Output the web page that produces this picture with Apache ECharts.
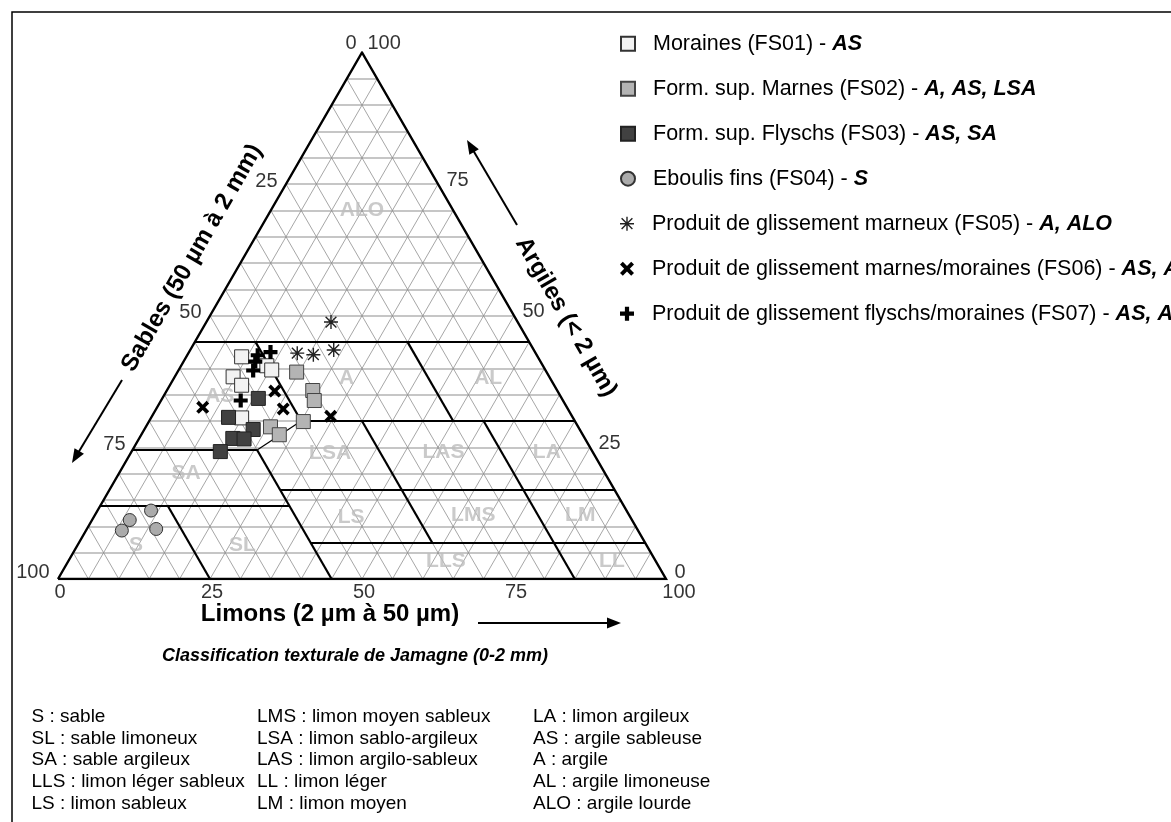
<!DOCTYPE html>
<html><head><meta charset="utf-8">
<script src="https://cdn.jsdelivr.net/npm/echarts@6.0.0/dist/echarts.min.js"></script>
<style>html,body{margin:0;padding:0;background:#fff}#c{width:1171px;height:822px}</style>
</head><body><div id="c"></div>
<script>
// ---------------- DATA ----------------
// ternary points given as [argile %, limon %]  (sable = 100 - argile - limon)
const seriesNames = ['Moraines (FS01)', 'Form. sup. Marnes (FS02)', 'Form. sup. Flyschs (FS03)', 'Eboulis fins (FS04)',
  'Produit de glissement marneux (FS05)', 'Produit de glissement marnes/moraines (FS06)', 'Produit de glissement flyschs/moraines (FS07)'];
const seriesClasses = ['AS', 'A, AS, LSA', 'AS, SA', 'S', 'A, ALO', 'AS, A', 'AS, A'];
const moraines   = [[42.2, 9.1], [40.5, 14.1], [39.7, 15.3], [38.4, 9.6], [36.8, 11.8], [30.6, 14.9]];
const marnes     = [[39.3, 19.6], [35.8, 24.0], [33.9, 25.2], [29.9, 25.4], [28.9, 20.5], [27.4, 22.7]];
const flyschs    = [[34.3, 15.8], [30.7, 12.7], [28.4, 17.9], [26.7, 15.4], [26.6, 17.3], [24.2, 14.6]];
const eboulis    = [[13.0, 8.8], [11.2, 6.2], [9.2, 5.9], [9.5, 11.4]];
const glissMarn  = [[48.8, 20.5], [42.9, 17.9], [42.6, 20.7], [43.5, 23.6]];
const glissMarMo = [[32.6, 7.5], [35.7, 17.8], [32.3, 20.9], [30.9, 29.4]];
const glissFlyMo = [[42.5, 11.6], [43.1, 13.4], [41.3, 11.8], [39.6, 12.3], [33.9, 13.1]];

// Jamagne class boundaries: segments between two [argile, limon] points
const zoneBounds = [
  [[45, 0], [45, 55]], [[45, 10], [30, 25]], [[45, 35], [30, 50]], [[30, 25], [30, 70]],
  [[24.5, 0], [24.5, 20.5]], [[24.5, 20.5], [0, 45]], [[17, 28], [17, 83]], [[6.8, 38.2], [6.8, 93.2]],
  [[14, 0], [14, 31]], [[14, 11], [0, 25]], [[30, 35], [6.8, 58.2]], [[30, 55], [0, 85]]
];
const zoneBoundsThin = [[[30, 25], [24.5, 20.5]]];
const zoneNames  = ['ALO', 'A', 'AL', 'AS', 'LSA', 'LAS', 'LA', 'SA', 'LS', 'LMS', 'LM', 'S', 'SL', 'LLS', 'LL'];
const zoneCenter = [[70, 15], [38.1, 28.4], [38.1, 51.7], [34.8, 9.2], [23.9, 32.8], [24, 51.4], [24, 68.4], [20.1, 11],
  [11.8, 42.3], [12.2, 62.2], [12.2, 79.8], [6.5, 9.6], [6.5, 27.1], [3.4, 62.1], [3.4, 89.4]];
const tickValues = [0, 25, 50, 75, 100];

const axisTitles = ['Sables (50 µm à 2 mm)', 'Argiles (< 2 µm)', 'Limons (2 µm à 50 µm)'];
const chartTitle = 'Classification texturale de Jamagne (0-2 mm)';
const glossary = [
  ['S : sable', 'SL : sable limoneux', 'SA : sable argileux', 'LLS : limon léger sableux', 'LS : limon sableux'],
  ['LMS : limon moyen sableux', 'LSA : limon sablo-argileux', 'LAS : limon argilo-sableux', 'LL : limon léger', 'LM : limon moyen'],
  ['LA : limon argileux', 'AS : argile sableuse', 'A : argile', 'AL : argile limoneuse', 'ALO : argile lourde']
];

// ---------------- HELPERS ----------------
const FONT = 'Liberation Sans, Arial, sans-serif';
const H = Math.sqrt(3) / 2;
function tern(c, s) { return [s + c / 2, c * H]; }
function seg(a, b) { return { coords: [tern(a[0], a[1]), tern(b[0], b[1])] }; }

const gridHoriz = [], gridDiag = [];
for (let k = 5; k < 100; k += 5) {
  gridHoriz.push(seg([k, 0], [k, 100 - k]));
  gridDiag.push(seg([0, k], [100 - k, k]));
  gridDiag.push(seg([0, 100 - k], [100 - k, 0]));
}

const PATH_STAR = 'path://M9,0H11V20H9Z M0,9H20V11H0Z M1.6,3L3,1.6L18.4,17L17,18.4Z M17,1.6L18.4,3L3,18.4L1.6,17Z';
const PATH_X = 'path://M0,4L4,0L10,6L16,0L20,4L14,10L20,16L16,20L10,14L4,20L0,16L6,10Z';
const PATH_PLUS = 'path://M7,0H13V7H20V13H13V20H7V13H0V7H7Z';

const pointSets = [moraines, marnes, flyschs, eboulis, glissMarn, glissMarMo, glissFlyMo];
const symbols = ['rect', 'rect', 'rect', 'circle', PATH_STAR, PATH_X, PATH_PLUS];
const sizes = [14, 14, 14, 13, 14, 13, 14];
const fills = ['#f2f2f2', '#b4b4b4', '#414141', '#ababab', '#222', '#000', '#000'];
const borders = ['#333', '#444', '#222', '#333', null, null, null];

const dataSeries = pointSets.map((pts, i) => ({
  type: 'scatter', name: seriesNames[i], z: 5 + i,
  data: pts.map(p => tern(p[0], p[1])),
  symbol: symbols[i], symbolSize: sizes[i],
  itemStyle: borders[i] ? { color: fills[i], borderColor: borders[i], borderWidth: 1, opacity: 1 } : { color: fills[i], opacity: 1 },
  emphasis: { disabled: true }, animation: false
}));

function labelSeries(points, texts, label) {
  return {
    type: 'scatter', silent: true, animation: false, z: 20,
    symbol: 'circle', symbolSize: 1, itemStyle: { color: 'rgba(0,0,0,0)' },
    data: points.map((p, i) => ({ value: tern(p[0], p[1]), name: String(texts[i]) })),
    label: Object.assign({ show: true, formatter: '{b}', color: '#000', fontSize: 20, fontFamily: FONT }, label)
  };
}

const leftTicks = tickValues.filter(v => v > 0 && v < 100);
const tickSeries = [
  labelSeries(leftTicks.map(v => [100 - v, 0]), leftTicks, { position: 'left', distance: 8, offset: [0, -3] }),
  labelSeries([[0, 0]], [100], { position: 'left', distance: 8, offset: [0, -7] }),
  labelSeries(leftTicks.map(v => [v, 100 - v]), leftTicks, { position: 'right', distance: 8, offset: [0, -4] }),
  labelSeries([[0, 100]], [0], { position: 'right', distance: 8, offset: [0, -7] }),
  labelSeries(tickValues.filter(v => v < 100).map(v => [0, v]), tickValues.filter(v => v < 100), { position: 'bottom', distance: 3, offset: [2, 0] }),
  labelSeries([[0, 100]], [100], { position: 'bottom', distance: 3, offset: [13, 0] }),
  labelSeries([[100, 0]], [0], { position: 'left', distance: 5, offset: [0, -9] }),
  labelSeries([[100, 0]], [100], { position: 'right', distance: 5, offset: [0, -9] })
];
const zoneLabelSeries = labelSeries(zoneCenter, zoneNames, { position: 'inside', fontSize: 21, fontWeight: 'bold', color: '#bdbdbd' });
zoneLabelSeries.z = 3;

function arrow(x1, y1, x2, y2) {
  const dx = x2 - x1, dy = y2 - y1, L = Math.hypot(dx, dy), ux = dx / L, uy = dy / L, px = -uy, py = ux, hl = 14, hw = 5.5;
  const bx = x2 - ux * hl, by = y2 - uy * hl;
  return [
    { type: 'line', shape: { x1: x1, y1: y1, x2: bx + ux * 2, y2: by + uy * 2 }, style: { stroke: '#000', lineWidth: 2 } },
    { type: 'polygon', shape: { points: [[x2, y2], [bx + px * hw, by + py * hw], [bx - px * hw, by - py * hw]] }, style: { fill: '#000' } }
  ];
}

const graphics = [
  { type: 'rect', shape: { x: 12, y: 12, width: 1400, height: 1000 }, style: { fill: 'none', stroke: '#000', lineWidth: 1.5 }, silent: true },
  { type: 'text', x: 192, y: 258, rotation: Math.PI / 3, style: { text: axisTitles[0], font: 'bold 24px ' + FONT, fill: '#000', align: 'center', verticalAlign: 'middle' } },
  { type: 'text', x: 566, y: 317, rotation: -Math.PI / 3, style: { text: axisTitles[1], font: 'bold 24px ' + FONT, fill: '#000', align: 'center', verticalAlign: 'middle' } },
  { type: 'text', x: 330, y: 614, style: { text: axisTitles[2], font: 'bold 24px ' + FONT, fill: '#000', align: 'center', verticalAlign: 'middle' } },
  { type: 'text', x: 355, y: 656, style: { text: chartTitle, font: 'italic bold 18px ' + FONT, fill: '#000', align: 'center', verticalAlign: 'middle' } }
].concat(arrow(122, 380, 72, 463), arrow(517, 225, 467, 140), arrow(478, 623, 621, 623));

const colX = [31.5, 257, 533];
glossary.forEach((col, ci) => col.forEach((t, ri) => {
  graphics.push({ type: 'text', x: colX[ci], y: 716.7 + 21.65 * ri, style: { text: t, font: '19px ' + FONT, fill: '#000', align: 'left', verticalAlign: 'middle' } });
}));

const legends = seriesNames.map((n, i) => ({
  data: [n], left: 620, top: 34.7 + 45 * i - 2, orient: 'vertical', padding: 0, itemGap: 0,
  itemWidth: 14, itemHeight: 14, selectedMode: false,
  formatter: name => '{n|' + name + ' - }{b|' + seriesClasses[i] + '}',
  textStyle: {
    rich: {
      n: { fontSize: 21.5, fontFamily: FONT, color: '#000', padding: [0, 0, 0, 13] },
      b: { fontSize: 21.5, fontFamily: FONT, color: '#000', fontWeight: 'bold', fontStyle: 'italic' }
    }
  }
}));

const chart = echarts.init(document.getElementById('c'), null, { renderer: 'canvas', width: 1171, height: 822 });
chart.setOption({
  backgroundColor: '#fff',
  animation: false,
  grid: { left: 58, top: 52.5, width: 608, height: 526.5 },
  xAxis: { type: 'value', min: 0, max: 100, show: false },
  yAxis: { type: 'value', min: 0, max: 100 * H, show: false },
  legend: legends,
  graphic: graphics,
  series: [
    { type: 'lines', coordinateSystem: 'cartesian2d', silent: true, z: 1, data: gridHoriz, lineStyle: { color: '#c6c6c6', width: 1.8, opacity: 1 }, animation: false },
    { type: 'lines', coordinateSystem: 'cartesian2d', silent: true, z: 1, data: gridDiag, lineStyle: { color: '#8f8f8f', width: 0.8, opacity: 1 }, animation: false },
    zoneLabelSeries,
    { type: 'lines', coordinateSystem: 'cartesian2d', silent: true, z: 4, data: zoneBounds.map(b => seg(b[0], b[1])), lineStyle: { color: '#000', width: 2.2, opacity: 1 }, animation: false },
    { type: 'lines', coordinateSystem: 'cartesian2d', silent: true, z: 4, data: zoneBoundsThin.map(b => seg(b[0], b[1])), lineStyle: { color: '#000', width: 1.2, opacity: 1 }, animation: false },
    { type: 'lines', coordinateSystem: 'cartesian2d', polyline: true, silent: true, z: 4,
      data: [{ coords: [tern(0, 0), tern(0, 100), tern(100, 0), tern(0, 0)] }], lineStyle: { color: '#000', width: 2.4, opacity: 1 }, animation: false }
  ].concat(dataSeries, tickSeries)
});
</script>
</body></html>
